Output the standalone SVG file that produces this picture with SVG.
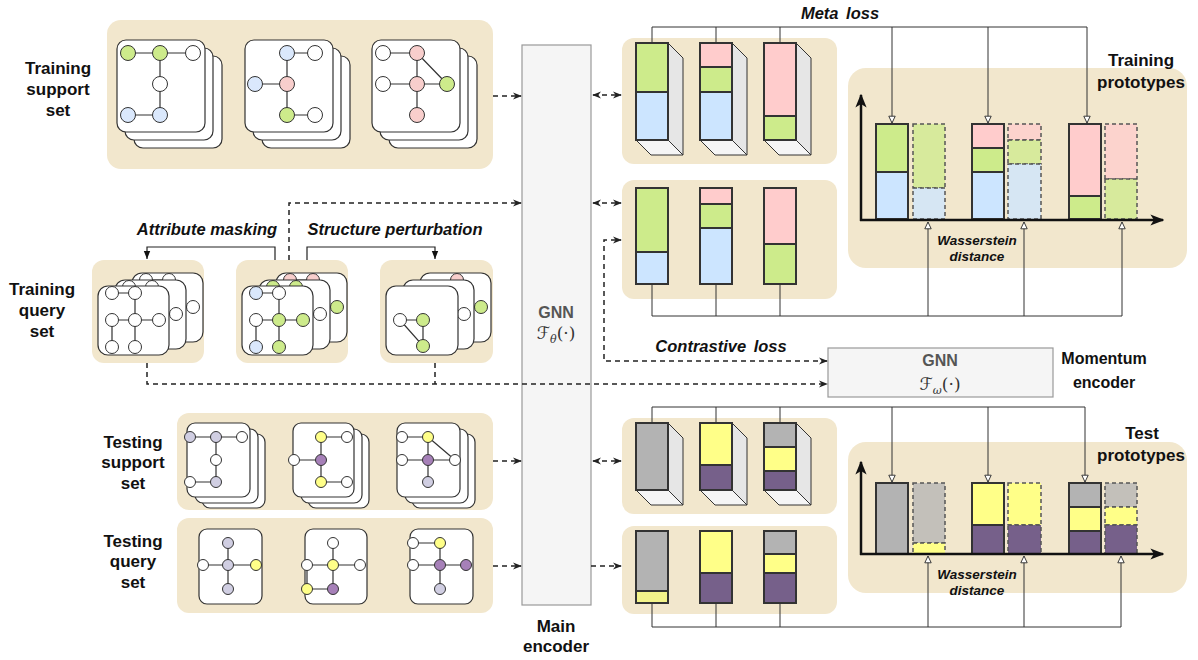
<svg xmlns="http://www.w3.org/2000/svg" width="1198" height="660" viewBox="0 0 1198 660">
  <defs>
    <style>
      text { font-family: "Liberation Sans", Arial, sans-serif; fill: #111; }
      .lbl { font-size: 17px; font-weight: bold; text-anchor: middle; }
      .it { font-size: 16.5px; font-weight: bold; font-style: italic; text-anchor: middle; }
      .wd { font-size: 13.5px; font-weight: bold; font-style: italic; text-anchor: middle; }
      .gnn { font-size: 16px; font-weight: bold; fill: #555; text-anchor: middle; }
      .math { font-family: "DejaVu Serif", "DejaVu Sans", serif; font-size: 17px; fill: #333; text-anchor: middle; }
      .panel { fill: #f2e7cd; }
      .card { fill: #fff; stroke: #333; stroke-width: 1.2; }
      .e { stroke: #333; stroke-width: 1.2; fill: none; }
      .n { stroke: #333; stroke-width: 1; }
      .w { fill: #fff; } .g { fill: #cdeb8b; } .b { fill: #dae8fc; } .p { fill: #f8cecc; }
      .l { fill: #d0cee2; } .v { fill: #a680b8; } .y { fill: #ffff88; }
      .bar { stroke: #333; stroke-width: 2; }
      .side { fill: #e6e6e6; stroke: #333; stroke-width: 1; }
      .bot { fill: #f5f5f5; stroke: #333; stroke-width: 1; }
      .dbar { stroke: #555; stroke-width: 1.5; stroke-dasharray: 4 3; fill-opacity: 0.75; }
      .op { fill-opacity: 1; }
      .BG { fill: #cdeb8b; } .BB { fill: #cce5ff; } .BP { fill: #ffcccc; }
      .BY { fill: #ffff88; } .BV { fill: #76608a; } .BK { fill: #b3b3b3; }
      .dash { stroke: #222; stroke-width: 1.5; stroke-dasharray: 5 4; fill: none; }
      .thin { stroke: #333; stroke-width: 1; fill: none; }
      .solid { stroke: #222; stroke-width: 1.2; fill: none; }
      .axis { stroke: #111; stroke-width: 2.5; fill: none; }
      .box { fill: #f5f5f5; stroke: #999; stroke-width: 1.2; }
    </style>
    <marker id="ah" viewBox="0 0 10 10" refX="9" refY="5" markerWidth="9" markerHeight="9" markerUnits="userSpaceOnUse" orient="auto-start-reverse">
      <path d="M0,1 L10,5 L0,9 L3,5 z" fill="#222"/>
    </marker>
    <marker id="tri" viewBox="0 0 10 10" refX="9.5" refY="5" markerWidth="8" markerHeight="8" markerUnits="userSpaceOnUse" orient="auto">
      <path d="M1,1 L9.5,5 L1,9 z" fill="#fff" stroke="#333" stroke-width="1.2"/>
    </marker>
    <marker id="fa" viewBox="0 0 10 10" refX="10" refY="5" markerWidth="8" markerHeight="8" markerUnits="userSpaceOnUse" orient="auto">
      <path d="M0,1 L10,5 L0,9 z" fill="#111"/>
    </marker>
    <marker id="ax" viewBox="0 0 10 10" refX="9" refY="5" markerWidth="14" markerHeight="14" markerUnits="userSpaceOnUse" orient="auto">
      <path d="M0,1 L10,5 L0,9 L2.5,5 z" fill="#111"/>
    </marker>
  </defs>

  <!-- ===== left labels ===== -->
  <g id="labels-left">
    <text class="lbl" x="58" y="74">Training</text>
    <text class="lbl" x="58" y="95">support</text>
    <text class="lbl" x="58" y="116">set</text>
    <text class="lbl" x="42" y="295">Training</text>
    <text class="lbl" x="42" y="316">query</text>
    <text class="lbl" x="42" y="337">set</text>
    <text class="lbl" x="133" y="448">Testing</text>
    <text class="lbl" x="133" y="468">support</text>
    <text class="lbl" x="133" y="489">set</text>
    <text class="lbl" x="133" y="547">Testing</text>
    <text class="lbl" x="133" y="567">query</text>
    <text class="lbl" x="133" y="588">set</text>
  </g>

  <!-- ===== training support set ===== -->
  <g id="train-support">
    <rect class="panel" x="107" y="20" width="386" height="149" rx="14"/>
    <!-- card stack 1 -->
    <rect class="card" x="134" y="56" width="88" height="92" rx="9"/>
    <rect class="card" x="125" y="48" width="88" height="92" rx="9"/>
    <rect class="card" x="117" y="40" width="88" height="92" rx="9"/>
    <path class="e" d="M128,53 H193 M160,53 V115 M128,115 H160"/>
    <circle class="n g" cx="128" cy="53" r="7.5"/><circle class="n g" cx="160" cy="53" r="7.5"/>
    <circle class="n w" cx="193" cy="53" r="7.5"/><circle class="n w" cx="160" cy="84" r="7.5"/>
    <circle class="n b" cx="128" cy="115" r="7.5"/><circle class="n b" cx="160" cy="115" r="7.5"/>
    <!-- card stack 2 -->
    <rect class="card" x="262" y="56" width="88" height="92" rx="9"/>
    <rect class="card" x="253" y="48" width="88" height="92" rx="9"/>
    <rect class="card" x="245" y="40" width="88" height="92" rx="9"/>
    <path class="e" d="M287,53 H315 M287,53 V115 M255,84 H287 M287,115 H315"/>
    <circle class="n b" cx="287" cy="53" r="7.5"/><circle class="n w" cx="315" cy="53" r="7.5"/>
    <circle class="n b" cx="255" cy="84" r="7.5"/><circle class="n p" cx="287" cy="84" r="7.5"/>
    <circle class="n g" cx="287" cy="115" r="7.5"/><circle class="n w" cx="315" cy="115" r="7.5"/>
    <!-- card stack 3 -->
    <rect class="card" x="389" y="56" width="88" height="92" rx="9"/>
    <rect class="card" x="380" y="48" width="88" height="92" rx="9"/>
    <rect class="card" x="372" y="40" width="88" height="92" rx="9"/>
    <path class="e" d="M383,53 H417 M417,53 V115 M383,84 H447 M417,53 L447,84"/>
    <circle class="n w" cx="383" cy="53" r="7.5"/><circle class="n p" cx="417" cy="53" r="7.5"/>
    <circle class="n w" cx="383" cy="84" r="7.5"/><circle class="n p" cx="417" cy="84" r="7.5"/>
    <circle class="n g" cx="447" cy="84" r="7.5"/><circle class="n p" cx="417" cy="115" r="7.5"/>
  </g>

  <!-- ===== training query set ===== -->
  <g id="train-query-1">
    <rect class="panel" x="92" y="260" width="112" height="103" rx="12"/>
    <g transform="translate(132,273)">
      <rect class="card" x="0" y="0" width="71" height="69" rx="10"/>
      <path class="e" d="M14,7 H37 M37,7 V61 M14,34 H61 M14,34 V61"/>
      <circle class="n w" cx="14" cy="7" r="6.5"/><circle class="n w" cx="37" cy="7" r="6.5"/>
      <circle class="n w" cx="14" cy="34" r="6.5"/><circle class="n w" cx="37" cy="34" r="6.5"/>
      <circle class="n w" cx="61" cy="34" r="6.5"/><circle class="n w" cx="14" cy="61" r="6.5"/>
      <circle class="n w" cx="37" cy="61" r="6.5"/>
    </g>
    <g transform="translate(115,280)">
      <rect class="card" x="0" y="0" width="71" height="69" rx="10"/>
      <path class="e" d="M14,7 H37 M37,7 V61 M14,34 H61 M14,34 V61"/>
      <circle class="n w" cx="14" cy="7" r="6.5"/><circle class="n w" cx="37" cy="7" r="6.5"/>
      <circle class="n w" cx="14" cy="34" r="6.5"/><circle class="n w" cx="37" cy="34" r="6.5"/>
      <circle class="n w" cx="61" cy="34" r="6.5"/><circle class="n w" cx="14" cy="61" r="6.5"/>
      <circle class="n w" cx="37" cy="61" r="6.5"/>
    </g>
    <g transform="translate(98,286)">
      <rect class="card" x="0" y="0" width="71" height="69" rx="10"/>
      <path class="e" d="M14,7 H37 M37,7 V61 M14,34 H61 M14,34 V61"/>
      <circle class="n w" cx="14" cy="7" r="6.5"/><circle class="n w" cx="37" cy="7" r="6.5"/>
      <circle class="n w" cx="14" cy="34" r="6.5"/><circle class="n w" cx="37" cy="34" r="6.5"/>
      <circle class="n w" cx="61" cy="34" r="6.5"/><circle class="n w" cx="14" cy="61" r="6.5"/>
      <circle class="n w" cx="37" cy="61" r="6.5"/>
    </g>
  </g>

  <g id="train-query-2">
    <rect class="panel" x="236" y="260" width="112" height="103" rx="12"/>
    <g transform="translate(276,273)">
      <rect class="card" x="0" y="0" width="71" height="69" rx="10"/>
      <path class="e" d="M14,7 H37 M37,7 V61 M14,34 H61 M14,34 V61"/>
      <circle class="n p" cx="14" cy="7" r="6.5"/><circle class="n p" cx="37" cy="7" r="6.5"/>
      <circle class="n w" cx="14" cy="34" r="6.5"/><circle class="n p" cx="37" cy="34" r="6.5"/>
      <circle class="n g" cx="61" cy="34" r="6.5"/><circle class="n w" cx="14" cy="61" r="6.5"/>
      <circle class="n p" cx="37" cy="61" r="6.5"/>
    </g>
    <g transform="translate(259,280)">
      <rect class="card" x="0" y="0" width="71" height="69" rx="10"/>
      <path class="e" d="M14,7 H37 M37,7 V61 M14,34 H61 M14,34 V61"/>
      <circle class="n g" cx="14" cy="7" r="6.5"/><circle class="n g" cx="37" cy="7" r="6.5"/>
      <circle class="n w" cx="14" cy="34" r="6.5"/><circle class="n w" cx="37" cy="34" r="6.5"/>
      <circle class="n w" cx="61" cy="34" r="6.5"/><circle class="n b" cx="14" cy="61" r="6.5"/>
      <circle class="n b" cx="37" cy="61" r="6.5"/>
    </g>
    <g transform="translate(242,286)">
      <rect class="card" x="0" y="0" width="71" height="69" rx="10"/>
      <path class="e" d="M14,7 H37 M37,7 V61 M14,34 H61 M14,34 V61"/>
      <circle class="n b" cx="14" cy="7" r="6.5"/><circle class="n w" cx="37" cy="7" r="6.5"/>
      <circle class="n w" cx="14" cy="34" r="6.5"/><circle class="n g" cx="37" cy="34" r="6.5"/>
      <circle class="n g" cx="61" cy="34" r="6.5"/><circle class="n b" cx="14" cy="61" r="6.5"/>
      <circle class="n g" cx="37" cy="61" r="6.5"/>
    </g>
  </g>

  <g id="train-query-3">
    <rect class="panel" x="380" y="260" width="113" height="103" rx="12"/>
    <g transform="translate(420,273)">
      <rect class="card" x="0" y="0" width="71" height="69" rx="10"/>
      <path class="e" d="M37,7 V34 H61"/>
      <circle class="n p" cx="37" cy="7" r="6.5"/>
      <circle class="n g" cx="61" cy="34" r="6.5"/>
    </g>
    <g transform="translate(403,280)">
      <rect class="card" x="0" y="0" width="71" height="69" rx="10"/>
      <path class="e" d="M37,34 H61"/>
      <circle class="n w" cx="61" cy="34" r="6.5"/>
    </g>
    <g transform="translate(386,286)">
      <rect class="card" x="0" y="0" width="72" height="69" rx="10"/>
      <path class="e" d="M14,34 H37 V60 L14,34"/>
      <circle class="n w" cx="14" cy="34" r="6.5"/>
      <circle class="n g" cx="37" cy="34" r="6.5"/>
      <circle class="n g" cx="37" cy="60" r="6.5"/>
    </g>
  </g>

  <!-- augmentation labels -->
  <text class="it" x="207" y="235">Attribute masking</text>
  <text class="it" x="395" y="235">Structure perturbation</text>

  <!-- ===== testing support set ===== -->
  <g id="test-support">
    <rect class="panel" x="177" y="413" width="316" height="97" rx="12"/>
    <rect class="card" x="202" y="434" width="63" height="74" rx="8"/>
    <rect class="card" x="195" y="429" width="63" height="74" rx="8"/>
    <rect class="card" x="187" y="423" width="63" height="74" rx="8"/>
    <path class="e" d="M190,437 H242 M216,437 V482 M190,482 H216"/>
    <circle class="n l" cx="190" cy="437" r="5.5"/><circle class="n l" cx="216" cy="437" r="5.5"/>
    <circle class="n w" cx="242" cy="437" r="5.5"/><circle class="n w" cx="216" cy="460" r="5.5"/>
    <circle class="n w" cx="190" cy="482" r="5.5"/><circle class="n l" cx="216" cy="482" r="5.5"/>

    <rect class="card" x="308" y="434" width="61" height="74" rx="8"/>
    <rect class="card" x="301" y="429" width="61" height="74" rx="8"/>
    <rect class="card" x="293" y="423" width="61" height="74" rx="8"/>
    <path class="e" d="M321,437 H347 M321,437 V482 M294,460 H321 M321,482 H347"/>
    <circle class="n y" cx="321" cy="437" r="5.5"/><circle class="n w" cx="347" cy="437" r="5.5"/>
    <circle class="n w" cx="294" cy="460" r="5.5"/><circle class="n v" cx="321" cy="460" r="5.5"/>
    <circle class="n y" cx="321" cy="482" r="5.5"/><circle class="n w" cx="347" cy="482" r="5.5"/>

    <rect class="card" x="412" y="434" width="63" height="74" rx="8"/>
    <rect class="card" x="405" y="429" width="63" height="74" rx="8"/>
    <rect class="card" x="397" y="423" width="63" height="74" rx="8"/>
    <path class="e" d="M402,437 H428 M428,437 V482 M402,460 H455 M428,437 L455,460"/>
    <circle class="n w" cx="402" cy="437" r="5.5"/><circle class="n y" cx="428" cy="437" r="5.5"/>
    <circle class="n w" cx="402" cy="460" r="5.5"/><circle class="n v" cx="428" cy="460" r="5.5"/>
    <circle class="n w" cx="455" cy="460" r="5.5"/><circle class="n l" cx="428" cy="482" r="5.5"/>
  </g>

  <!-- ===== testing query set ===== -->
  <g id="test-query">
    <rect class="panel" x="177" y="518" width="316" height="95" rx="12"/>
    <rect class="card" x="199" y="529" width="63" height="75" rx="8"/>
    <path class="e" d="M228,543 V589 M203,565 H256"/>
    <circle class="n l" cx="228" cy="543" r="5.5"/><circle class="n w" cx="203" cy="565" r="5.5"/>
    <circle class="n l" cx="228" cy="565" r="5.5"/><circle class="n y" cx="256" cy="565" r="5.5"/>
    <circle class="n l" cx="228" cy="589" r="5.5"/>

    <rect class="card" x="305" y="529" width="62" height="75" rx="8"/>
    <path class="e" d="M333,543 V589 M307,565 H360 M307,589 H333 M307,565 V589"/>
    <circle class="n w" cx="333" cy="543" r="5.5"/><circle class="n w" cx="307" cy="565" r="5.5"/>
    <circle class="n y" cx="333" cy="565" r="5.5"/><circle class="n w" cx="360" cy="565" r="5.5"/>
    <circle class="n y" cx="307" cy="589" r="5.5"/><circle class="n v" cx="333" cy="589" r="5.5"/>

    <rect class="card" x="410" y="529" width="63" height="75" rx="8"/>
    <path class="e" d="M413,543 H440 M440,543 V589 M413,565 H466"/>
    <circle class="n w" cx="413" cy="543" r="5.5"/><circle class="n y" cx="440" cy="543" r="5.5"/>
    <circle class="n w" cx="413" cy="565" r="5.5"/><circle class="n v" cx="440" cy="565" r="5.5"/>
    <circle class="n v" cx="466" cy="565" r="5.5"/><circle class="n l" cx="440" cy="589" r="5.5"/>
  </g>

  <!-- ===== main encoder ===== -->
  <g id="main-encoder">
    <rect class="box" x="522" y="45" width="69" height="560"/>
    <text class="gnn" x="556" y="318">GNN</text>
    <text class="math" x="556" y="339">ℱ<tspan font-size="11" font-style="italic" dy="4">θ</tspan><tspan dy="-4">(·)</tspan></text>
    <text class="lbl" x="556" y="632">Main</text>
    <text class="lbl" x="556" y="652">encoder</text>
  </g>

  <!-- ===== momentum encoder ===== -->
  <g id="momentum-encoder">
    <rect class="box" x="828" y="348" width="225" height="49"/>
    <text class="gnn" x="940" y="366">GNN</text>
    <text class="math" x="940" y="390">ℱ<tspan font-size="11" font-style="italic" dy="4">ω</tspan><tspan dy="-4">(·)</tspan></text>
    <text class="lbl" x="1104" y="364" style="font-size:16px">Momentum</text>
    <text class="lbl" x="1104" y="388" style="font-size:16px">encoder</text>
  </g>

  <!-- ===== training support embeddings (3D bars) ===== -->
  <g id="emb-train-support">
    <rect class="panel" x="622" y="38" width="215" height="126" rx="12"/>
    <polygon class="side" points="668,43 683,58 683,155 668,140"/>
    <polygon class="bot" points="636,140 668,140 683,155 651,155"/>
    <rect class="bar BG" x="636" y="43" width="32" height="49"/>
    <rect class="bar BB" x="636" y="92" width="32" height="48"/>
    <polygon class="side" points="732,43 747,58 747,155 732,140"/>
    <polygon class="bot" points="700,140 732,140 747,155 715,155"/>
    <rect class="bar BP" x="700" y="43" width="32" height="24"/>
    <rect class="bar BG" x="700" y="67" width="32" height="25"/>
    <rect class="bar BB" x="700" y="92" width="32" height="48"/>
    <polygon class="side" points="796,43 811,58 811,155 796,140"/>
    <polygon class="bot" points="764,140 796,140 811,155 779,155"/>
    <rect class="bar BP" x="764" y="43" width="32" height="73"/>
    <rect class="bar BG" x="764" y="116" width="32" height="24"/>
  </g>

  <!-- ===== training query embeddings ===== -->
  <g id="emb-train-query">
    <rect class="panel" x="622" y="180" width="215" height="119" rx="12"/>
    <rect class="bar BG" x="636" y="188" width="32" height="64"/>
    <rect class="bar BB" x="636" y="252" width="32" height="32"/>
    <rect class="bar BP" x="700" y="188" width="32" height="16"/>
    <rect class="bar BG" x="700" y="204" width="32" height="24"/>
    <rect class="bar BB" x="700" y="228" width="32" height="56"/>
    <rect class="bar BP" x="764" y="188" width="32" height="56"/>
    <rect class="bar BG" x="764" y="244" width="32" height="40"/>
  </g>

  <!-- ===== testing support embeddings (3D bars) ===== -->
  <g id="emb-test-support">
    <rect class="panel" x="622" y="418" width="215" height="96" rx="12"/>
    <polygon class="side" points="668,423 683,438 683,505 668,490"/>
    <polygon class="bot" points="636,490 668,490 683,505 651,505"/>
    <rect class="bar BK" x="636" y="423" width="32" height="67"/>
    <polygon class="side" points="732,423 747,438 747,505 732,490"/>
    <polygon class="bot" points="700,490 732,490 747,505 715,505"/>
    <rect class="bar BY" x="700" y="423" width="32" height="42"/>
    <rect class="bar BV" x="700" y="465" width="32" height="25"/>
    <polygon class="side" points="796,423 811,438 811,505 796,490"/>
    <polygon class="bot" points="764,490 796,490 811,505 779,505"/>
    <rect class="bar BK" x="764" y="423" width="32" height="24"/>
    <rect class="bar BY" x="764" y="447" width="32" height="24"/>
    <rect class="bar BV" x="764" y="471" width="32" height="19"/>
  </g>

  <!-- ===== testing query embeddings ===== -->
  <g id="emb-test-query">
    <rect class="panel" x="622" y="526" width="215" height="88" rx="12"/>
    <rect class="bar BK" x="636" y="531" width="32" height="60"/>
    <rect class="bar" x="636" y="591" width="32" height="12" fill="#f3f38a"/>
    <rect class="bar BY" x="700" y="531" width="32" height="42"/>
    <rect class="bar BV" x="700" y="573" width="32" height="30"/>
    <rect class="bar BK" x="764" y="531" width="32" height="23"/>
    <rect class="bar BY" x="764" y="554" width="32" height="19"/>
    <rect class="bar BV" x="764" y="573" width="32" height="30"/>
  </g>

  <!-- ===== training prototypes ===== -->
  <g id="train-prototypes">
    <rect class="panel" x="848" y="68" width="339" height="200" rx="18"/>
    <text class="lbl" x="1141" y="66">Training</text>
    <text class="lbl" x="1141" y="88">prototypes</text>
    <rect class="bar BG" x="876" y="124" width="32" height="48"/>
    <rect class="bar BB" x="876" y="172" width="32" height="47"/>
    <rect class="dbar BG" x="913" y="124" width="32" height="64"/>
    <rect class="dbar BB" x="913" y="188" width="32" height="31"/>
    <rect class="bar BP" x="972" y="124" width="32" height="24"/>
    <rect class="bar BG" x="972" y="148" width="32" height="24"/>
    <rect class="bar BB" x="972" y="172" width="32" height="47"/>
    <rect class="dbar BP" x="1008" y="124" width="33" height="16"/>
    <rect class="dbar BG" x="1008" y="140" width="33" height="24"/>
    <rect class="dbar BB" x="1008" y="164" width="33" height="55"/>
    <rect class="bar BP" x="1069" y="124" width="32" height="72"/>
    <rect class="bar BG" x="1069" y="196" width="32" height="23"/>
    <rect class="dbar BP" x="1105" y="124" width="32" height="55"/>
    <rect class="dbar BG" x="1105" y="179" width="32" height="40"/>
    <path class="axis" d="M861,221 V95" marker-end="url(#ax)"/>
    <path class="axis" d="M860,220 H1163" marker-end="url(#ax)"/>
    <text class="wd" x="977" y="245">Wasserstein</text>
    <text class="wd" x="977" y="261">distance</text>
  </g>

  <!-- ===== test prototypes ===== -->
  <g id="test-prototypes">
    <rect class="panel" x="848" y="442" width="339" height="151" rx="18"/>
    <text class="lbl" x="1142" y="439">Test</text>
    <text class="lbl" x="1141" y="461">prototypes</text>
    <rect class="bar BK" x="876" y="483" width="32" height="71"/>
    <rect class="dbar BK" x="913" y="483" width="32" height="60"/>
    <rect class="dbar op BY" x="913" y="543" width="32" height="11"/>
    <rect class="bar BY" x="972" y="483" width="32" height="42"/>
    <rect class="bar BV" x="972" y="525" width="32" height="29"/>
    <rect class="dbar op BY" x="1008" y="483" width="33" height="42"/>
    <rect class="dbar op BV" x="1008" y="525" width="33" height="29"/>
    <rect class="bar BK" x="1069" y="483" width="32" height="24"/>
    <rect class="bar BY" x="1069" y="507" width="32" height="24"/>
    <rect class="bar BV" x="1069" y="531" width="32" height="23"/>
    <rect class="dbar BK" x="1105" y="483" width="32" height="24"/>
    <rect class="dbar op BY" x="1105" y="507" width="32" height="18"/>
    <rect class="dbar op BV" x="1105" y="525" width="32" height="29"/>
    <path class="axis" d="M861,555 V462" marker-end="url(#ax)"/>
    <path class="axis" d="M860,554 H1163" marker-end="url(#ax)"/>
    <text class="wd" x="977" y="579">Wasserstein</text>
    <text class="wd" x="977" y="595">distance</text>
  </g>

  <!-- ===== connectors ===== -->
  <g id="connectors">
    <!-- augmentation arrows -->
    <path class="solid" d="M275,260 V247 H147 V259" marker-end="url(#fa)"/>
    <path class="solid" d="M307,260 V247 H435 V259" marker-end="url(#fa)"/>

    <!-- inputs to main encoder -->
    <path class="dash" d="M493,96 H521" marker-end="url(#ah)"/>
    <path class="dash" d="M289,260 V203 H521" marker-end="url(#ah)"/>
    <path class="dash" d="M493,461 H521" marker-end="url(#ah)"/>
    <path class="dash" d="M493,566 H521" marker-end="url(#ah)"/>

    <!-- main encoder to embeddings -->
    <path class="dash" d="M593,95 H621" marker-start="url(#ah)" marker-end="url(#ah)"/>
    <path class="dash" d="M593,203 H621" marker-start="url(#ah)" marker-end="url(#ah)"/>
    <path class="dash" d="M593,461 H621" marker-start="url(#ah)" marker-end="url(#ah)"/>
    <path class="dash" d="M591,566 H621" marker-end="url(#ah)"/>

    <!-- query sets to momentum encoder -->
    <path class="dash" d="M147,363 V384 H827" marker-end="url(#ah)"/>
    <path class="dash" d="M435,363 V384"/>

    <!-- contrastive loss -->
    <path class="dash" d="M827,361 H604 V240 H621" marker-start="url(#ah)" marker-end="url(#ah)"/>
    <text class="it" x="721" y="352" style="word-spacing:3px">Contrastive loss</text>

    <!-- meta loss (training) -->
    <path class="thin" d="M652,43 V27 H1087 M716,43 V27 M780,43 V27"/>
    <path class="thin" d="M892,27 V123" marker-end="url(#tri)"/>
    <path class="thin" d="M988,27 V123" marker-end="url(#tri)"/>
    <path class="thin" d="M1087,27 V123" marker-end="url(#tri)"/>
    <text class="it" x="840" y="19" style="word-spacing:3px">Meta loss</text>

    <!-- wasserstein (training) -->
    <path class="thin" d="M652,284 V316 H1122 M716,284 V316 M780,284 V316"/>
    <path class="thin" d="M928,316 V222" marker-end="url(#tri)"/>
    <path class="thin" d="M1024,316 V222" marker-end="url(#tri)"/>
    <path class="thin" d="M1122,316 V222" marker-end="url(#tri)"/>

    <!-- meta loss (test) -->
    <path class="thin" d="M652,423 V407 H1085 M716,423 V407 M780,423 V407"/>
    <path class="thin" d="M892,407 V482" marker-end="url(#tri)"/>
    <path class="thin" d="M988,407 V482" marker-end="url(#tri)"/>
    <path class="thin" d="M1085,407 V482" marker-end="url(#tri)"/>

    <!-- wasserstein (test) -->
    <path class="thin" d="M652,603 V627 H1121 M716,603 V627 M780,603 V627"/>
    <path class="thin" d="M928,627 V556" marker-end="url(#tri)"/>
    <path class="thin" d="M1024,627 V556" marker-end="url(#tri)"/>
    <path class="thin" d="M1121,627 V556" marker-end="url(#tri)"/>
  </g>
</svg>
